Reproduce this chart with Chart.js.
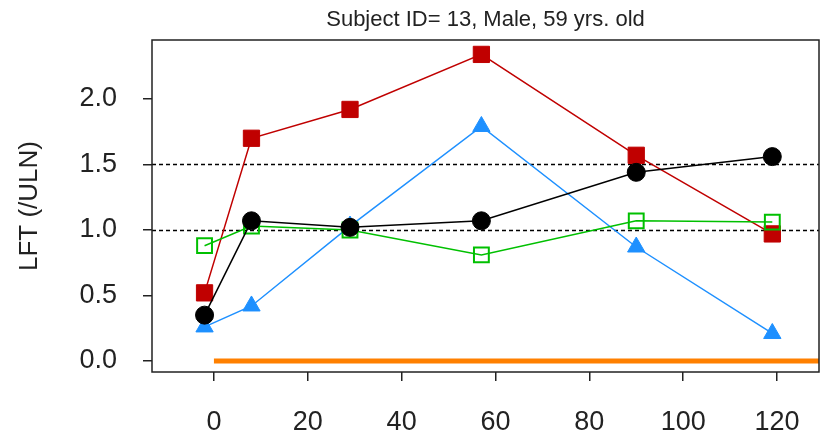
<!DOCTYPE html>
<html>
<head>
<meta charset="utf-8">
<script src="https://cdn.jsdelivr.net/npm/chart.js@4"></script>
<style>
  html, body { margin: 0; padding: 0; background: #fff; }
  #wrap { width: 820px; height: 434px; }
</style>
</head>
<body>
<div id="wrap"><canvas id="lftChart"></canvas></div>
<script>
// ==== Data ====
const days = [-2, 8, 29, 57, 90, 119];
const redSquares = [0.52, 1.70, 1.92, 2.34, 1.57, 0.97];
const blackCircles = [0.35, 1.07, 1.02, 1.07, 1.44, 1.56];
const blueTriangles = [0.26, 0.42, 1.03, 1.79, 0.87, 0.21];
const greenSquares = [0.88, 1.03, 1.00, 0.81, 1.07, 1.06];

const baselineX = [0, 129];
const baselineY = [0, 0];
const refLines = [1.0, 1.5];

const xTicks = [0, 20, 40, 60, 80, 100, 120];
const yTicks = [0.0, 0.5, 1.0, 1.5, 2.0];

const FONT = "'Liberation Sans', Arial, sans-serif";
const INK = '#222';

function toPoints(xs, ys) {
  return xs.map((x, i) => ({ x: x, y: ys[i] }));
}

// ==== Frame + dotted reference lines ====
const framePlugin = {
  id: 'frame',
  beforeDatasetsDraw(chart) {
    const { ctx, chartArea: a, scales } = chart;
    ctx.save();
    ctx.strokeStyle = '#000';
    ctx.lineWidth = 1.5;
    ctx.setLineDash([4, 3]);
    refLines.forEach(v => {
      const y = Math.round(scales.y.getPixelForValue(v)) + 0.5;
      ctx.beginPath();
      ctx.moveTo(a.left, y);
      ctx.lineTo(a.right, y);
      ctx.stroke();
    });
    ctx.restore();
  },
  afterDraw(chart) {
    const { ctx, chartArea: a } = chart;
    ctx.save();
    ctx.strokeStyle = INK;
    ctx.lineWidth = 1.5;
    ctx.strokeRect(a.left, a.top, a.right - a.left, a.bottom - a.top);
    ctx.restore();
  }
};

const series = (label, ys, color, style, radius, fill, order) => ({
  label: label,
  data: toPoints(days, ys),
  borderColor: color,
  borderWidth: 1.5,
  pointStyle: style,
  pointRadius: radius,
  pointBorderWidth: fill ? 1 : 2,
  pointBorderColor: color,
  pointBackgroundColor: fill ? color : 'rgba(0,0,0,0)',
  order: order
});

// keep the end tick labels from shrinking the plot box
const noEdgePad = s => { s.paddingLeft = 0; s.paddingRight = 0; s.paddingTop = 0; s.paddingBottom = 0; };

new Chart(document.getElementById('lftChart'), {
  type: 'line',
  data: {
    datasets: [
      series('black', blackCircles, '#000000', 'circle', 9, true, 1),
      series('green', greenSquares, '#00c000', 'rect', 10.5, false, 2),
      series('blue', blueTriangles, '#1e90ff', 'triangle', 10, true, 3),
      series('red', redSquares, '#c00000', 'rect', 11.5, true, 4),
      {
        label: 'baseline',
        data: toPoints(baselineX, baselineY),
        borderColor: '#ff8000',
        borderWidth: 5,
        pointRadius: 0,
        order: 5
      }
    ]
  },
  options: {
    responsive: true,
    maintainAspectRatio: false,
    devicePixelRatio: 1,
    animation: false,
    layout: { autoPadding: false, padding: { top: 0, right: 1, bottom: 0, left: 0 } },
    plugins: {
      legend: { display: false },
      tooltip: { enabled: false },
      title: {
        display: true,
        text: 'Subject ID= 13, Male, 59 yrs. old',
        fullSize: false,
        color: INK,
        font: { family: FONT, size: 22, weight: 'normal' },
        padding: { top: 7, bottom: 6.6 }
      }
    },
    scales: {
      x: {
        type: 'linear',
        min: -13.2,
        max: 128.95,
        afterBuildTicks: s => { s.ticks = xTicks.map(v => ({ value: v })); },
        afterFit: s => { s.height = 62; noEdgePad(s); },
        border: { display: false },
        grid: { drawOnChartArea: false, drawTicks: true, tickLength: 9, color: INK, lineWidth: 1.5 },
        ticks: {
          color: INK,
          padding: 25,
          maxRotation: 0,
          autoSkip: false,
          font: { family: FONT, size: 27 },
          callback: v => String(v)
        }
      },
      y: {
        min: -0.084,
        max: 2.45,
        afterBuildTicks: s => { s.ticks = yTicks.map(v => ({ value: v })); },
        afterFit: s => { s.width = 152; noEdgePad(s); },
        border: { display: false },
        grid: { drawOnChartArea: false, drawTicks: true, tickLength: 9, color: INK, lineWidth: 1.5 },
        title: {
          display: true,
          text: 'LFT (/ULN)',
          color: INK,
          font: { family: FONT, size: 26 },
          padding: { top: 14, bottom: 0 }
        },
        ticks: {
          color: INK,
          padding: 26,
          autoSkip: false,
          font: { family: FONT, size: 27 },
          callback: v => v.toFixed(1)
        }
      }
    }
  },
  plugins: [framePlugin]
});
</script>
</body>
</html>
